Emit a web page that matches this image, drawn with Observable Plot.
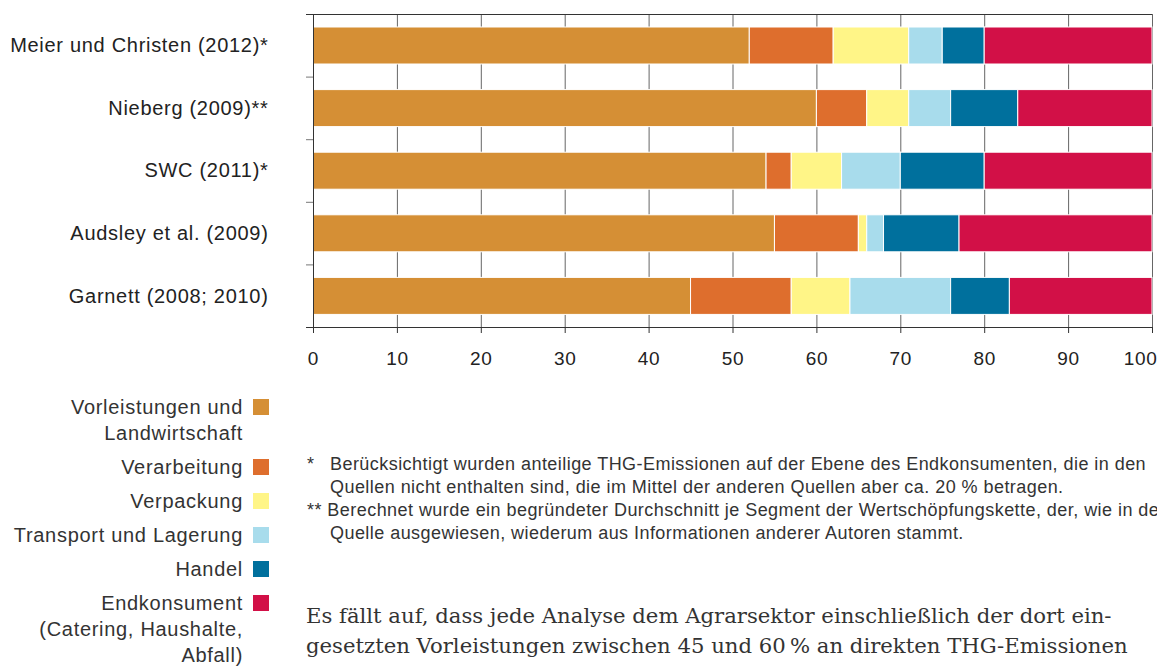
<!DOCTYPE html>
<html lang="de">
<head>
<meta charset="utf-8">
<script src="https://cdn.jsdelivr.net/npm/d3@7"></script>
<script src="https://cdn.jsdelivr.net/npm/@observablehq/plot@0.6"></script>
<style>
  html, body { margin: 0; padding: 0; background: #fff; }
  #page { position: relative; width: 1157px; height: 666px; overflow: hidden; font-family: "Liberation Sans", Arial, sans-serif; }
  #chart { position: absolute; left: 0; top: 0; }
  #legend { position: absolute; left: 0; top: 394px; width: 270px; color: #333; font-size: 20px; letter-spacing: 0.7px; }
  .item { position: relative; margin-bottom: 8px; padding-right: 27px; text-align: right; line-height: 26px; }
  .sw { position: absolute; right: 1px; top: 5px; width: 16px; height: 16px; }
  #notes { position: absolute; left: 307px; top: 453px; color: #333; font-size: 18px; line-height: 23px; white-space: nowrap; letter-spacing: 0.45px; }
  .note { padding-left: 23px; text-indent: -23px; }
  .mark { display: inline-block; width: 23px; text-indent: 0; }
  #body { position: absolute; left: 306px; top: 601px; color: #333; font-family: "DejaVu Serif", "Liberation Serif", serif; font-size: 21.2px; line-height: 30px; white-space: nowrap; }
</style>
</head>
<body>
<div id="page">
  <div id="chart"></div>
  <div id="legend"></div>
  <div id="notes">
    <div class="note"><span class="mark">*</span>Berücksichtigt wurden anteilige THG-Emissionen auf der Ebene des Endkonsumenten, die in den<br>Quellen nicht enthalten sind, die im Mittel der anderen Quellen aber ca. 20 % betragen.</div>
    <div class="note">** Berechnet wurde ein begründeter Durchschnitt je Segment der Wertschöpfungskette, der, wie in der<br>Quelle ausgewiesen, wiederum aus Informationen anderer Autoren stammt.</div>
  </div>
  <div id="body">Es fällt auf, dass jede Analyse dem Agrarsektor einschließlich der dort ein-<br>gesetzten Vorleistungen zwischen 45 und 60&#8201;% an direkten THG-Emissionen</div>
</div>
<script>
// ---- data ----
const sources = ["Meier und Christen (2012)*", "Nieberg (2009)**", "SWC (2011)*", "Audsley et al. (2009)", "Garnett (2008; 2010)"];
const sectors = ["Vorleistungen und Landwirtschaft", "Verarbeitung", "Verpackung", "Transport und Lagerung", "Handel", "Endkonsument (Catering, Haushalte, Abfall)"];
const legendLines = [["Vorleistungen und", "Landwirtschaft"], ["Verarbeitung"], ["Verpackung"], ["Transport und Lagerung"], ["Handel"], ["Endkonsument", "(Catering, Haushalte,", "Abfall)"]];
const colors = ["#d58f35", "#de6e2d", "#fff587", "#a8dcec", "#00709d", "#d21047"];
const vorleistungen = [52, 60, 54, 55, 45];
const verarbeitung  = [10, 6, 3, 10, 12];
const verpackung    = [9, 5, 6, 1, 7];
const transport     = [4, 5, 7, 2, 12];
const handel        = [5, 8, 10, 9, 7];
const endkonsument  = [20, 16, 20, 23, 17];
const xTicks = [0, 10, 20, 30, 40, 50, 60, 70, 80, 90, 100];
const xMax = xTicks[xTicks.length - 1];

const series = [vorleistungen, verarbeitung, verpackung, transport, handel, endkonsument];
const rows = [];
sources.forEach((s, i) => series.forEach((vals, j) => rows.push({source: s, sector: sectors[j], value: vals[i]})));

// ---- layout ----
const W = 1157, H = 380, mt = 14, mb = 53, ml = 313, mr = 5;
const step = (H - mt - mb) / sources.length;

const plot = Plot.plot({
  width: W, height: H,
  marginTop: mt, marginBottom: mb, marginLeft: ml, marginRight: mr,
  style: {fontFamily: "'Liberation Sans', Arial, sans-serif", fontSize: "20px", color: "#222", letterSpacing: "0.7px", background: "white", overflow: "visible"},
  x: {domain: [0, xMax]},
  y: {domain: sources, padding: 0, round: false},
  color: {domain: sectors, range: colors},
  marks: [
    Plot.ruleX(xTicks, {stroke: "#666", strokeWidth: 1}),
    Plot.barX(rows, Plot.stackX({x: "value", y: "source", fill: "sector", order: sectors, stroke: "white", strokeWidth: 1, insetTop: 13, insetBottom: 12.6})),
    Plot.ruleY(sources, {y: d => d, dy: -step / 2, x1: 0, x2: 0, insetLeft: -7, stroke: "#777"}),
    Plot.ruleY([sources[0]], {y: d => d, dy: -step / 2, insetLeft: -7, stroke: "#333"}),
    Plot.ruleY([sources[sources.length - 1]], {y: d => d, dy: step / 2, insetLeft: -7, stroke: "#333"}),
    Plot.ruleX([0], {stroke: "#333", insetBottom: -6}),
    Plot.axisX({ticks: xTicks, tickSize: 6, tickPadding: 18, fontSize: 19, stroke: "#333", label: null,
                tickFormat: d => d === xMax ? "" : String(d), style: {letterSpacing: "0.3px"}}),
    Plot.text([xMax], {x: d => d, text: d => String(d), frameAnchor: "bottom", lineAnchor: "top", dy: 24, dx: 5,
                       textAnchor: "end", fontSize: 19, fill: "#222", style: {letterSpacing: "0.3px"}}),
    Plot.axisY({tickSize: 0, tickPadding: 45, fontSize: 20, label: null})
  ]
});
document.getElementById("chart").appendChild(plot);

// ---- legend ----
const legend = d3.select("#legend");
sectors.forEach((s, i) => {
  const it = legend.append("div").attr("class", "item");
  it.html(legendLines[i].join("<br>"));
  it.append("div").attr("class", "sw").style("background", colors[i]);
});
</script>
</body>
</html>
